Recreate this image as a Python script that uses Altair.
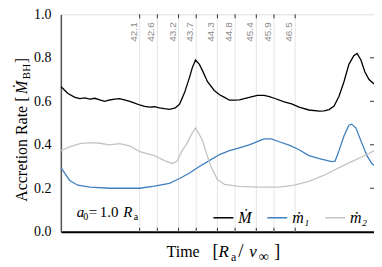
import altair as alt
import pandas as pd

# ---- data ----
t_M = [39.87, 40.07, 40.27, 40.41, 40.55, 40.69, 40.83, 40.97, 41.11, 41.25, 41.39, 41.53,
       41.67, 41.82, 41.96, 42.10, 42.24, 42.38, 42.52, 42.66, 42.80, 42.94, 43.11, 43.23,
       43.37, 43.51, 43.59, 43.68, 43.79, 43.88, 44.02, 44.21, 44.36, 44.50, 44.64, 44.78,
       44.92, 45.06, 45.20, 45.43, 45.62, 45.77, 45.91, 46.19, 46.40, 46.61, 46.89, 47.18,
       47.32, 47.46, 47.60, 47.74, 47.88, 48.02, 48.16, 48.25, 48.36, 48.47, 48.59, 48.73]
v_M = [0.668, 0.636, 0.618, 0.612, 0.616, 0.610, 0.614, 0.607, 0.600, 0.606, 0.610, 0.612,
       0.606, 0.600, 0.592, 0.583, 0.577, 0.573, 0.575, 0.570, 0.566, 0.563, 0.570, 0.587,
       0.640, 0.710, 0.755, 0.790, 0.770, 0.740, 0.690, 0.650, 0.630, 0.618, 0.605, 0.605,
       0.607, 0.612, 0.618, 0.627, 0.627, 0.622, 0.614, 0.597, 0.588, 0.573, 0.560, 0.555,
       0.556, 0.562, 0.578, 0.623, 0.690, 0.770, 0.810, 0.820, 0.790, 0.736, 0.700, 0.680]

t_m1 = [39.87, 40.00, 40.12, 40.35, 40.69, 41.25, 41.82, 42.10, 42.52, 42.94, 43.23, 43.51,
        43.79, 44.07, 44.36, 44.64, 44.92, 45.20, 45.48, 45.62, 45.82, 46.05, 46.33, 46.61,
        46.89, 47.18, 47.54, 47.63, 47.74, 47.88, 48.02, 48.10, 48.22, 48.36, 48.53, 48.67, 48.73]
v_m1 = [0.295, 0.265, 0.236, 0.214, 0.205, 0.200, 0.200, 0.200, 0.210, 0.223, 0.245, 0.270,
        0.300, 0.327, 0.355, 0.373, 0.386, 0.400, 0.418, 0.427, 0.427, 0.414, 0.398, 0.377,
        0.350, 0.336, 0.323, 0.325, 0.373, 0.440, 0.490, 0.495, 0.477, 0.418, 0.350, 0.314, 0.305]

t_m2 = [39.87, 40.12, 40.41, 40.69, 40.97, 41.25, 41.53, 41.82, 42.10, 42.52, 42.80, 43.02,
        43.16, 43.30, 43.45, 43.59, 43.68, 43.76, 43.88, 43.99, 44.13, 44.30, 44.50, 44.92,
        45.48, 46.05, 46.47, 46.89, 47.32, 47.74, 48.16, 48.59, 48.73]
v_m2 = [0.373, 0.390, 0.405, 0.410, 0.407, 0.400, 0.405, 0.395, 0.368, 0.350, 0.327, 0.314,
        0.325, 0.373, 0.410, 0.455, 0.477, 0.455, 0.420, 0.360, 0.295, 0.240, 0.218, 0.209,
        0.205, 0.205, 0.214, 0.232, 0.260, 0.295, 0.327, 0.360, 0.373]

series_names = ["Ṁ", "ṁ₁", "ṁ₂"]
series_colors = ["#000000", "#3f7fc0", "#c4c4c4"]
marker_times = [42.1, 42.6, 43.2, 43.7, 44.3, 44.8, 45.4, 45.9, 46.5]
marker_labels = ["42.1", "42.6", "43.2", "43.7", "44.3", "44.8", "45.4", "45.9", "46.5"]
y_ticks = [0.0, 0.2, 0.4, 0.6, 0.8, 1.0]

rows = []
for name, ts, vs in zip(series_names, [t_M, t_m1, t_m2], [v_M, v_m1, v_m2]):
    for i, (t, v) in enumerate(zip(ts, vs)):
        rows.append({"series": name, "order": i, "time": t, "rate": v})
df = pd.DataFrame(rows)
markers = pd.DataFrame({"time": marker_times, "label": marker_labels})
yt = pd.DataFrame({"rate": y_ticks[1:-1]})

W, H = 314, 218
SERIF = "Liberation Serif, Times New Roman, DejaVu Serif, serif"

xscale = alt.Scale(domain=[39.87, 48.73], nice=False, zero=False)
yscale = alt.Scale(domain=[0, 1], nice=False)

vlines = alt.Chart(markers).mark_rule(color="#e4e4e4", strokeWidth=1).encode(
    x=alt.X("time:Q", scale=xscale,
            axis=alt.Axis(title=None, labels=False, ticks=False, domain=True,
                          domainColor="#000000", domainWidth=2, grid=False)),
)
vlabels = alt.Chart(markers).mark_text(
    angle=270, align="right", baseline="bottom", font="Liberation Sans, DejaVu Sans, sans-serif",
    fontSize=10, color="#8c8c8c", dy=-1
).encode(x=alt.X("time:Q", scale=xscale), y=alt.value(8), text="label:N")

bticks = alt.Chart(markers).mark_rule(color="#333333", strokeWidth=1).encode(
    x=alt.X("time:Q", scale=xscale), y=alt.value(H), y2=alt.value(H - 4))
tticks = alt.Chart(markers).mark_rule(color="#333333", strokeWidth=1).encode(
    x=alt.X("time:Q", scale=xscale), y=alt.value(0), y2=alt.value(4))
rticks = alt.Chart(yt).mark_rule(color="#333333", strokeWidth=1).encode(
    y=alt.Y("rate:Q", scale=yscale), x=alt.value(W), x2=alt.value(W - 4))

lines = alt.Chart(df).mark_line(strokeWidth=1.3).encode(
    x=alt.X("time:Q", scale=xscale),
    y=alt.Y("rate:Q", scale=yscale,
            axis=alt.Axis(title=None, values=y_ticks, format=".1f", ticks=False,
                          labelPadding=10, labelFont=SERIF, labelFontSize=14,
                          labelColor="#000000", grid=False, domainColor="#555555",
                          domainWidth=1.5)),
    color=alt.Color("series:N",
                    scale=alt.Scale(domain=series_names, range=series_colors),
                    legend=alt.Legend(title=None, orient="none", legendX=152, legendY=193,
                                      direction="horizontal", symbolType="stroke",
                                      symbolSize=400, symbolStrokeWidth=1.5,
                                      labelFont=SERIF, labelFontStyle="italic",
                                      labelFontSize=16, labelColor="#000000",
                                      labelOffset=4, columnPadding=12, padding=0)),
    order="order:Q",
)


def txt(s, x, y, size=16, style="normal", angle=0, color="#000000", align="left", dy=0):
    return alt.Chart(pd.DataFrame({"s": [s]})).mark_text(
        font=SERIF, fontSize=size, fontStyle=style, angle=angle, align=align,
        baseline="alphabetic", color=color, dy=dy
    ).encode(x=alt.value(x), y=alt.value(y), text="s:N")


annot = [
    txt("a", 16, 203, 15, "italic"),
    txt("0", 22.5, 203, 10, dy=3),
    txt("=", 28, 203, 15),
    txt("1.0", 39, 203, 15),
    txt("R", 62.5, 203, 15, "italic"),
    txt("a", 73, 203, 10, dy=3),
]

xtitle = [
    txt("Time", 106, 243, 16),
    txt("[", 152, 243, 18),
    txt("R", 158, 243, 17, "italic"),
    txt("a", 170.5, 243, 12, dy=4),
    txt("/", 178, 243, 19),
    txt("v", 189, 243, 17, "italic"),
    txt("∞", 198.5, 243, 14, dy=4),
    txt("]", 214, 243, 18),
]

ytitle = [
    txt("Accretion Rate [", -34, 188, 16, angle=270),
    txt("Ṁ", -34, 80, 16, "italic", angle=270),
    txt("BH", -31, 65, 11, angle=270),
    txt("]", -34, 49, 16, angle=270),
]

chart = alt.layer(vlines, vlabels, bticks, tticks, rticks, lines, *annot, *xtitle, *ytitle).properties(
    width=W, height=H,
    autosize=alt.AutoSizeParams(type="none"),
    padding={"left": 53, "top": 6, "right": 0, "bottom": 36},
).configure_view(stroke="#555555", strokeWidth=1.5).configure(background="#ffffff")

chart.save("out.html", embed_options={"renderer": "svg", "actions": False})
